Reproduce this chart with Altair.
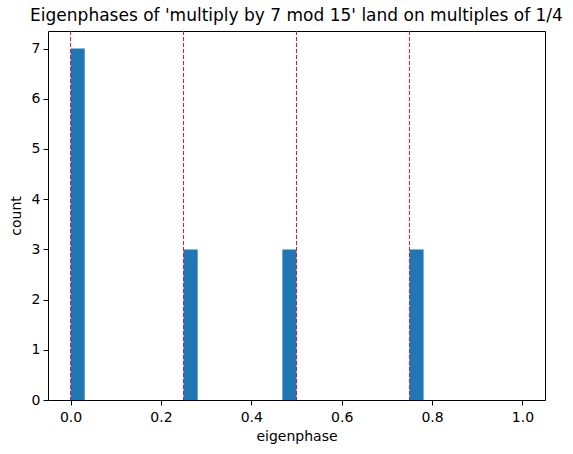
import altair as alt
import pandas as pd

# histogram bins (32 bins over [0, 1]) and counts
bin_left = [0.0, 0.25, 0.46875, 0.75]
counts = [7, 3, 3, 3]
bin_width = 1 / 32
# reference lines at multiples of 1/4
ref_lines = [0.0, 0.25, 0.5, 0.75]

x_ticks = [0.0, 0.2, 0.4, 0.6, 0.8, 1.0]
y_ticks = [0, 1, 2, 3, 4, 5, 6, 7]

bars_df = pd.DataFrame({
    "left": bin_left,
    "right": [b + bin_width for b in bin_left],
    "count": counts,
})
lines_df = pd.DataFrame({"x": ref_lines})

FONT = "DejaVu Sans"
W, H = 497, 369

xscale = alt.Scale(domain=[-0.05, 1.05], nice=False, zero=False, padding=0)
yscale = alt.Scale(domain=[0, 7.35], nice=False, padding=0)

bars = alt.Chart(bars_df).mark_bar(color="#1f77b4", stroke=None).encode(
    x=alt.X("left:Q", scale=xscale,
            axis=alt.Axis(title="eigenphase", values=x_ticks, format=".1f")),
    x2="right:Q",
    y=alt.Y("count:Q", scale=yscale,
            axis=alt.Axis(title="count", values=y_ticks, format="d")),
    y2=alt.datum(0),
)

lines = alt.Chart(lines_df).mark_rule(
    color="#dc143c", strokeWidth=1, strokeDash=[4, 2]
).encode(x=alt.X("x:Q", scale=xscale))

chart = alt.layer(bars, lines).properties(
    width=W,
    height=H,
    autosize=alt.AutoSizeParams(type="none"),
    padding={"left": 48, "top": 31, "right": 28, "bottom": 54},
    title=alt.TitleParams(
        "Eigenphases of 'multiply by 7 mod 15' land on multiples of 1/4",
        font=FONT, fontSize=17, fontWeight="normal", color="black",
        anchor="middle", offset=6,
    ),
).configure_view(
    stroke="black", strokeWidth=1,
).configure_axis(
    domain=False, grid=False,
    tickColor="black", tickSize=5, tickWidth=1,
    labelFont=FONT, labelFontSize=14, labelColor="black", labelPadding=3,
    titleFont=FONT, titleFontSize=14, titleFontWeight="normal", titleColor="black",
).configure_axisX(
    labelPadding=5,
    titlePadding=5,
).configure_axisY(
    titlePadding=8,
)

chart.save("out.html", embed_options={"renderer": "svg", "actions": False})
